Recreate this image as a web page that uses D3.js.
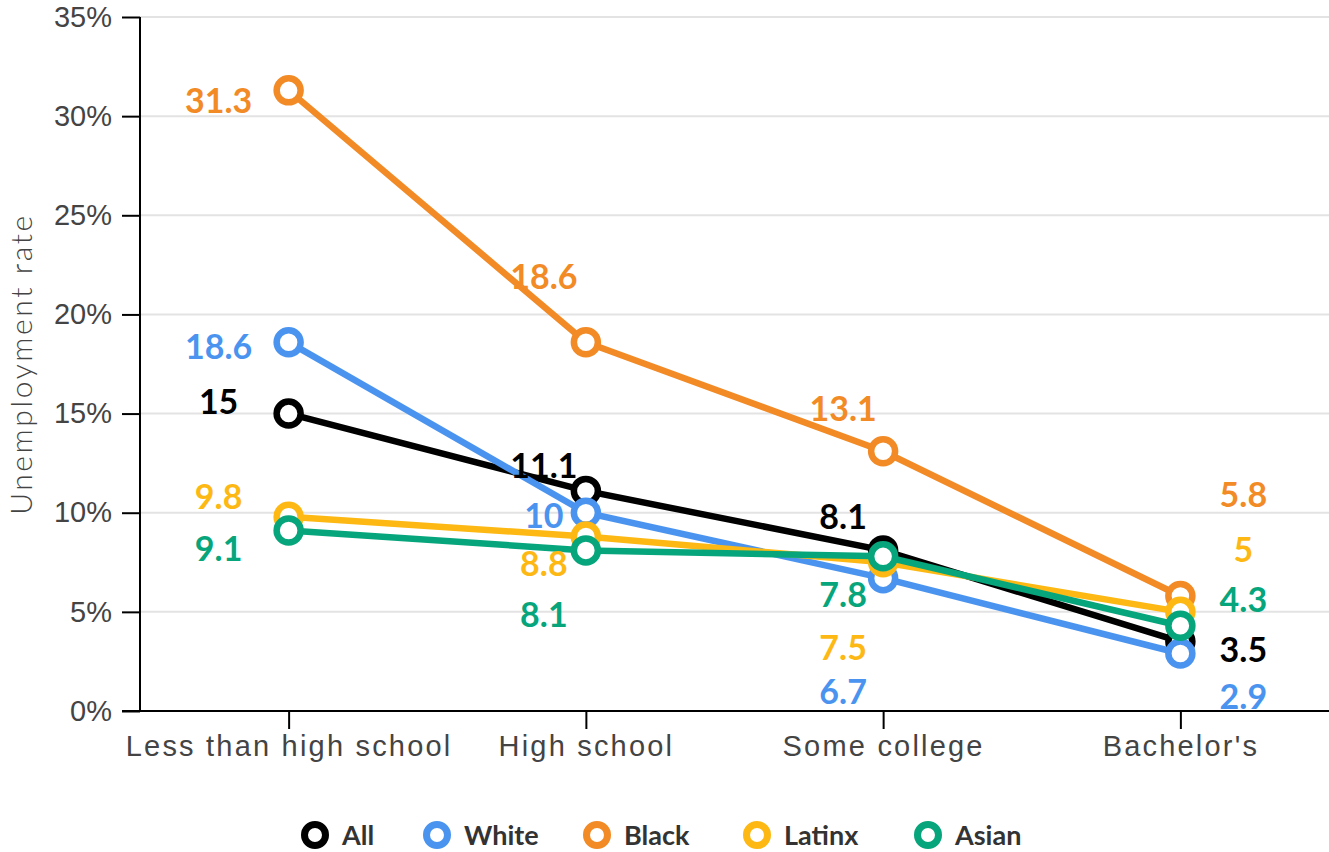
<!DOCTYPE html>
<html>
<head>
<meta charset="utf-8">
<script src="https://cdn.jsdelivr.net/npm/d3@7"></script>
<style>
  body { margin: 0; background: #fff; }
  svg { display: block; font-family: Lato, "Open Sans", sans-serif; }
  .tick-label { fill: #444; font-weight: 300; font-size: 29px; }
  .x-label { letter-spacing: 2.2px; }
  .val { font-weight: 700; font-size: 34px; }
  .legend-text { fill: #333; font-weight: 700; font-size: 27px; }
</style>
</head>
<body>
<div id="chart"></div>
<script>
const CATEGORIES = ["Less than high school", "High school", "Some college", "Bachelor's"];
const Y_TICKS = [0, 5, 10, 15, 20, 25, 30, 35];

const SERIES_NAMES = ["All", "White", "Black", "Latinx", "Asian"];
const ALL = [15, 11.1, 8.1, 3.5];
const WHITE = [18.6, 10, 6.7, 2.9];
const BLACK = [31.3, 18.6, 13.1, 5.8];
const LATINX = [9.8, 8.8, 7.5, 5];
const ASIAN = [9.1, 8.1, 7.8, 4.3];

const COLORS = ["#000000", "#4a94f0", "#f28a25", "#fdb813", "#06a57b"];

// manual label nudges (px) per series per category, like the original's hand placement
const LABEL_DY = {
  All:    [-12, -25, -34, 8],
  White:  [5, 3, 114, 43],
  Black:  [10, -65, -42, -101],
  Latinx: [-20, 27, 85, -62],
  Asian:  [18, 64, 38, -26]
};
const LABEL_DX = [-70, -42, -40, 63];

const WIDTH = 1329, HEIGHT = 852;
const LEFT = 140, TOP = 17, BOTTOM = 711;

const CIRCLE_RADIUS = 12;
const LINE_WIDTH = 6.5;

document.addEventListener('DOMContentLoaded', function() {
  drawChart();
});

function drawChart()
{
  var values = [ALL, WHITE, BLACK, LATINX, ASIAN];
  var series = SERIES_NAMES.map(function(name, i) {
    return { name: name, color: COLORS[i], values: values[i] };
  });

  var svg = d3.select('#chart').append('svg')
    .attr('width', WIDTH)
    .attr('height', HEIGHT);

  var x = d3.scalePoint().domain(CATEGORIES).range([LEFT, WIDTH]).padding(0.5);
  var y = d3.scaleLinear().domain([0, 35]).range([BOTTOM, TOP]);

  // grid
  svg.append('g').selectAll('line')
    .data(Y_TICKS.slice(1))
    .enter().append('line')
    .attr('x1', LEFT).attr('x2', WIDTH)
    .attr('y1', function(d) { return y(d); })
    .attr('y2', function(d) { return y(d); })
    .style('stroke', '#e3e3e3')
    .style('stroke-width', 2);

  // y axis
  var yAxis = svg.append('g')
    .attr('transform', 'translate(' + LEFT + ',0)')
    .call(d3.axisLeft(y).tickValues(Y_TICKS).tickSize(18).tickPadding(10)
      .tickFormat(function(d) { return d + '%'; }));
  yAxis.select('.domain').style('stroke', '#000').style('stroke-width', 2)
    .attr('d', 'M0,' + TOP + 'V' + BOTTOM);
  yAxis.selectAll('.tick line').style('stroke', '#000').style('stroke-width', 2);
  yAxis.selectAll('.tick text').attr('class', 'tick-label').attr('font-size', null).attr('font-family', null);

  // x axis
  var xAxis = svg.append('g')
    .attr('transform', 'translate(0,' + BOTTOM + ')')
    .call(d3.axisBottom(x).tickSize(18).tickPadding(6));
  xAxis.select('.domain').style('stroke', '#000').style('stroke-width', 2)
    .attr('d', 'M' + (LEFT - 18) + ',0H' + WIDTH);
  xAxis.selectAll('.tick line').style('stroke', '#000').style('stroke-width', 2);
  xAxis.selectAll('.tick text').attr('class', 'tick-label x-label').attr('font-size', null).attr('font-family', null);

  // y title
  svg.append('text')
    .attr('class', 'tick-label x-label')
    .attr('transform', 'translate(32,' + ((TOP + BOTTOM) / 2) + ') rotate(-90)')
    .attr('text-anchor', 'middle')
    .style('font-size', '30px')
    .style('letter-spacing', '2.6px')
    .text('Unemployment rate');

  var lineGenerator = d3.line()
    .x(function(d, i) { return x(CATEGORIES[i]); })
    .y(function(d) { return y(d); });

  var drawOrder = ['Black', 'All', 'White', 'Latinx', 'Asian'];
  drawOrder.forEach(function(name) {
    var s = series.find(function(d) { return d.name == name; });
    var g = svg.append('g');
    g.append('path')
      .attr('d', lineGenerator(s.values))
      .style('stroke', s.color)
      .style('stroke-width', LINE_WIDTH)
      .style('fill', 'none');
    g.selectAll('circle')
      .data(s.values)
      .enter().append('circle')
      .attr('cx', function(d, i) { return x(CATEGORIES[i]); })
      .attr('cy', function(d) { return y(d); })
      .attr('r', CIRCLE_RADIUS)
      .style('fill', 'white')
      .style('stroke', s.color)
      .style('stroke-width', LINE_WIDTH);
  });

  // value labels
  series.forEach(function(s) {
    svg.append('g').selectAll('text')
      .data(s.values)
      .enter().append('text')
      .attr('class', 'val')
      .attr('x', function(d, i) { return x(CATEGORIES[i]) + LABEL_DX[i]; })
      .attr('y', function(d, i) { return y(d) + LABEL_DY[s.name][i]; })
      .attr('dy', '0.36em')
      .attr('text-anchor', 'middle')
      .style('fill', s.color)
      .text(function(d) { return d; });
  });

  // legend
  var legendX = [315, 437, 597, 757, 928];
  var legend = svg.append('g').selectAll('g')
    .data(series)
    .enter().append('g')
    .attr('transform', function(d, i) { return 'translate(' + legendX[i] + ',835)'; });
  legend.append('circle')
    .attr('r', 10.5)
    .style('fill', 'white')
    .style('stroke', function(d) { return d.color; })
    .style('stroke-width', 7);
  legend.append('text')
    .attr('class', 'legend-text')
    .attr('x', 27)
    .attr('dy', '0.36em')
    .text(function(d) { return d.name; });
}
</script>
</body>
</html>
